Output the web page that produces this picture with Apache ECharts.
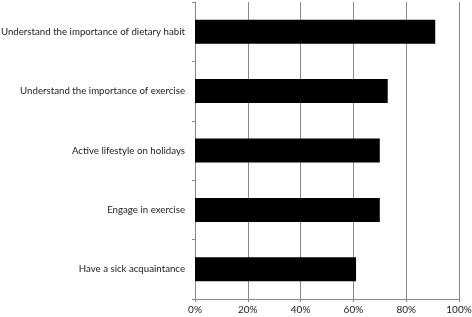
<!DOCTYPE html>
<html>
<head>
<meta charset="utf-8">
<script src="https://cdn.jsdelivr.net/npm/echarts@6/dist/echarts.min.js"></script>
<style>
  html, body { margin: 0; padding: 0; background: #fff; }
  #chart { width: 472px; height: 317px; }
</style>
</head>
<body>
<div id="chart"></div>
<script>
// categories, top to bottom
var categories = [
  'Understand the importance of dietary habit',
  'Understand the importance of exercise',
  'Active lifestyle on holidays',
  'Engage in exercise',
  'Have a sick acquaintance'
]
var percents = [91, 73, 70, 70, 61]

var chart = echarts.init(document.getElementById('chart'))
chart.setOption({
  animation: false,
  grid: {
    left: 195,
    right: 13,
    top: 2,
    bottom: 18,
    containLabel: false,
    outerBoundsMode: 'none'
  },
  xAxis: {
    type: 'value',
    min: 0,
    max: 100,
    interval: 20,
    axisLine: { show: true, lineStyle: { color: '#888', width: 1 } },
    axisTick: { show: true, length: 3, lineStyle: { color: '#888' } },
    axisLabel: {
      formatter: '{value}%',
      color: '#222',
      fontFamily: 'Lato',
      fontSize: 10,
      margin: 6
    },
    splitLine: { show: true, lineStyle: { color: '#888', width: 1 } }
  },
  yAxis: {
    type: 'category',
    inverse: true,
    data: categories,
    axisLine: { show: true, lineStyle: { color: '#888', width: 1 } },
    axisTick: { show: true, length: 3, lineStyle: { color: '#888' } },
    axisLabel: {
      color: '#222',
      fontFamily: 'Lato',
      fontSize: 9.7,
      margin: 10
    }
  },
  series: [{
    type: 'bar',
    data: percents,
    barWidth: 24,
    itemStyle: { color: '#000' }
  }]
})
</script>
</body>
</html>
